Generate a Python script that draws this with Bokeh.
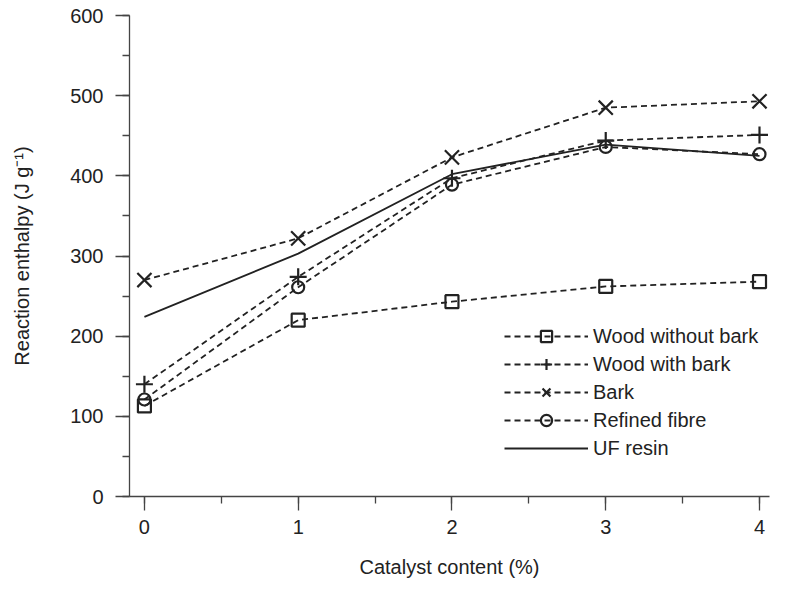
from bokeh.plotting import figure
from bokeh.models import Range1d, SingleIntervalTicker
from bokeh.embed import file_html
from bokeh.resources import INLINE

# Data
catalyst = [0, 1, 2, 3, 4]
wood_without_bark = [113, 220, 243, 262, 268]
wood_with_bark = [140, 274, 397, 444, 451]
bark = [270, 322, 423, 485, 493]
refined_fibre = [121, 261, 389, 436, 427]
uf_resin = [224, 303, 402, 439, 425]

INK = "#222222"
FONT = "Liberation Sans"

p = figure(width=779, height=586, output_backend="svg", toolbar_location=None,
           x_range=Range1d(-0.097, 4.065), y_range=Range1d(0, 600),
           min_border_left=129, min_border_right=10, min_border_top=15,
           min_border_bottom=90)
p.outline_line_color = None
p.grid.visible = False
p.background_fill_color = "white"

dash = "6 4"

def series(vals, label, marker, size, dashed=True):
    p.line(catalyst, vals, line_color=INK, line_width=1.8,
           line_dash=dash if dashed else "solid", legend_label=label)
    if marker:
        p.scatter(catalyst, vals, marker=marker, size=size, line_color=INK,
                  line_width=2.2, fill_alpha=0, legend_label=label)

series(wood_without_bark, "Wood without bark", "square", 13)
series(wood_with_bark, "Wood with bark", "cross", 17)
series(bark, "Bark", "x", 20)
series(refined_fibre, "Refined fibre", "circle", 12)
series(uf_resin, "UF resin", None, 0, dashed=False)

# Axes
xa = p.xaxis[0]
xa.ticker = SingleIntervalTicker(interval=1, num_minor_ticks=2)
xa.axis_label = "Catalyst content (%)"
ya = p.yaxis[0]
ya.ticker = SingleIntervalTicker(interval=100, num_minor_ticks=2)
ya.axis_label = "Reaction enthalpy (J g\u207b\u00b9)"

for ax in (xa, ya):
    ax.axis_line_color = "#444444"
    ax.axis_line_width = 1.3
    ax.major_tick_line_color = "#444444"
    ax.minor_tick_line_color = "#444444"
    ax.major_tick_line_width = 1.3
    ax.minor_tick_line_width = 1.3
    ax.major_tick_in = 0
    ax.minor_tick_in = 0
    ax.major_label_text_font = FONT
    ax.major_label_text_font_size = "20px"
    ax.major_label_text_color = INK
    ax.axis_label_text_font = FONT
    ax.axis_label_text_font_size = "20px"
    ax.axis_label_text_font_style = "normal"
    ax.axis_label_text_color = INK

xa.major_tick_out = 14
xa.minor_tick_out = 7
xa.major_label_standoff = 9
xa.axis_label_standoff = 19

ya.major_tick_out = 14
ya.minor_tick_out = 7
ya.major_label_standoff = 12
ya.axis_label_standoff = 34

lg = p.legend[0]
lg.location = (375, 34)
lg.border_line_color = None
lg.background_fill_alpha = 0
lg.glyph_width = 84
lg.glyph_height = 28
lg.label_height = 28
lg.spacing = 0
lg.padding = 0
lg.margin = 0
lg.label_standoff = 5
lg.label_text_font = FONT
lg.label_text_font_size = "20px"
lg.label_text_color = INK

open("out.html", "w").write(file_html(p, INLINE))
